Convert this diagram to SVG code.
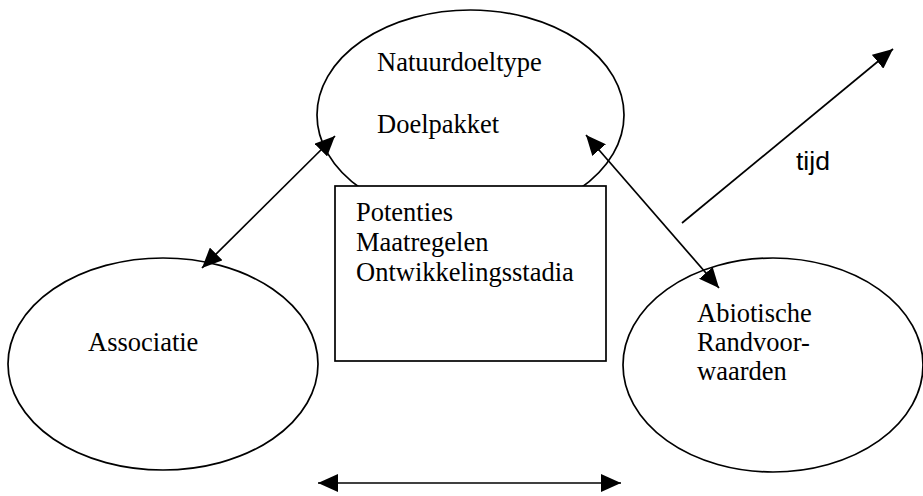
<svg xmlns="http://www.w3.org/2000/svg" width="923" height="496" viewBox="0 0 923 496">
<defs>
<style>
.shape{fill:#fff;stroke:#000;stroke-width:1.7}
.lbl{font-family:"Liberation Serif","Times New Roman",serif;font-size:26.5px;fill:#000}
.sans{font-family:"Liberation Sans",Arial,sans-serif;font-size:26.5px;fill:#000}
.conn{stroke:#000;stroke-width:1.7;fill:none;marker-start:url(#ah);marker-end:url(#ah)}
</style>
<marker id="ah" viewBox="0 0 20 18" refX="20" refY="9" markerWidth="20" markerHeight="18" markerUnits="userSpaceOnUse" orient="auto-start-reverse">
<path d="M0,0 L20,9 L0,18 z" fill="#000"/>
</marker>
</defs>
<rect width="923" height="496" fill="#fff"/>
<g id="natuurdoeltype">
<ellipse class="shape" cx="470.5" cy="115" rx="153.5" ry="105"/>
<text class="lbl" x="377" y="71">Natuurdoeltype</text>
<text class="lbl" x="377" y="133">Doelpakket</text>
</g>
<g id="potenties">
<rect class="shape" x="335" y="186" width="271" height="175"/>
<text class="lbl" x="356" y="221">Potenties</text>
<text class="lbl" x="356" y="251">Maatregelen</text>
<text class="lbl" x="356" y="281">Ontwikkelingsstadia</text>
</g>
<g id="associatie">
<ellipse class="shape" cx="163" cy="364" rx="155" ry="106"/>
<text class="lbl" x="88" y="351">Associatie</text>
</g>
<g id="abiotische">
<ellipse class="shape" cx="773" cy="365" rx="150" ry="107"/>
<text class="lbl" x="697" y="322">Abiotische</text>
<text class="lbl" x="697" y="351">Randvoor-</text>
<text class="lbl" x="697" y="380">waarden</text>
</g>
<g id="tijd">
<text class="sans" x="796" y="170">tijd</text>
</g>
<g id="connectors">
<line class="conn" x1="335" y1="136" x2="202" y2="268"/>
<line class="conn" x1="586" y1="135" x2="719" y2="288"/>
<line class="conn" x1="318" y1="483" x2="621" y2="483"/>
<line x1="682" y1="223" x2="893" y2="49" stroke="#000" stroke-width="1.7" marker-end="url(#ah)"/>
</g>
</svg>
